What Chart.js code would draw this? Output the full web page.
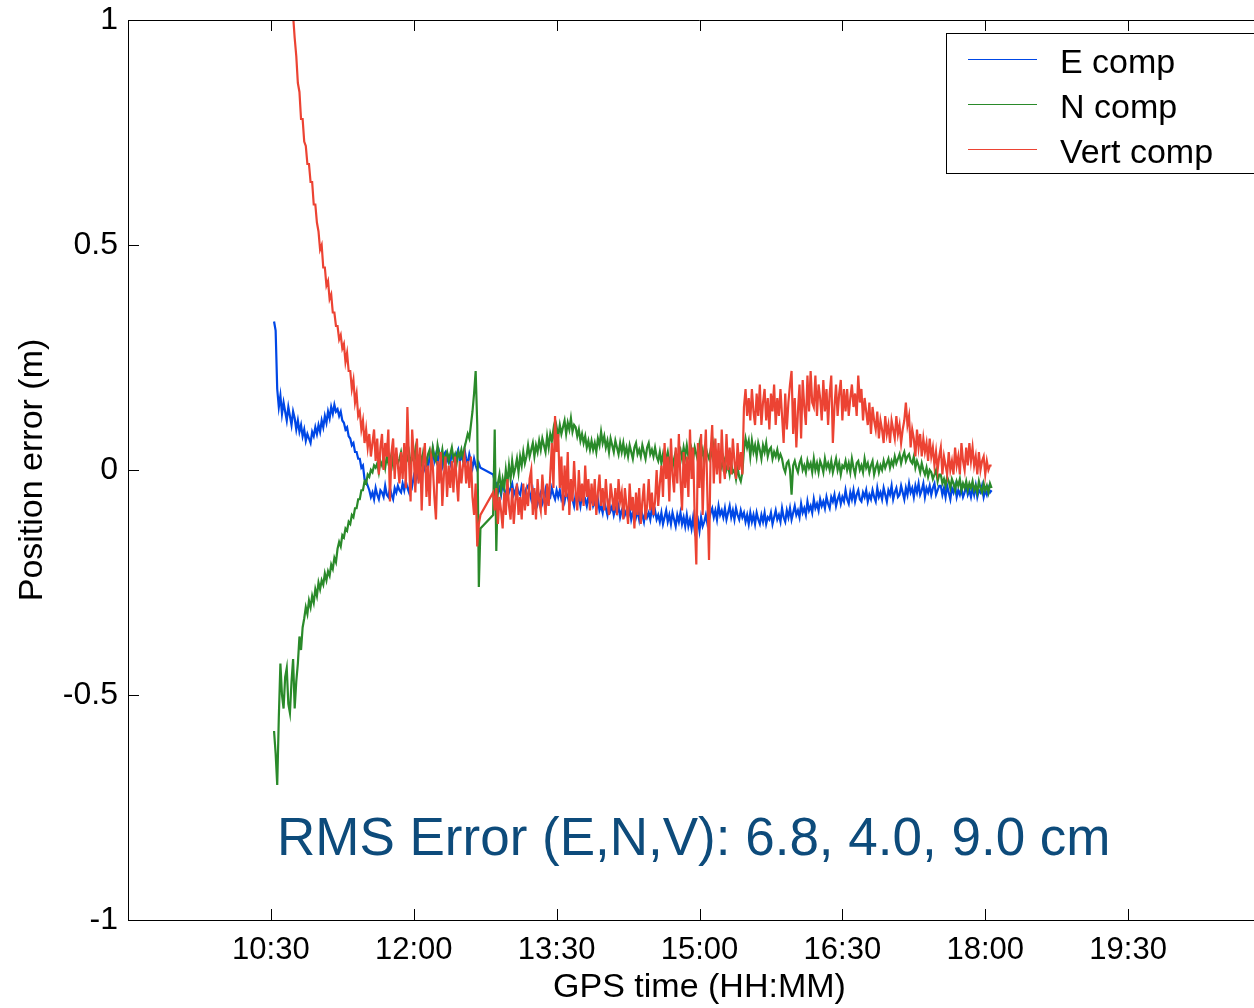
<!DOCTYPE html>
<html>
<head>
<meta charset="utf-8">
<script src="https://cdn.jsdelivr.net/npm/chart.js@4.4.1/dist/chart.umd.min.js"></script>
<style>
  html, body { margin: 0; padding: 0; background: #fff; overflow: hidden; }
  #wrap { width: 1290px; height: 1008px; }
</style>
</head>
<body>
<div id="wrap"><canvas id="chart1" width="1290" height="1008"></canvas></div>
<script>
// GPS samples, one a minute from 10:32 (minutes after midnight)
const sampleStart = 632;
const sampleStep = 1;

// position errors in cm (null = no solution)
const eComp = [
  33, 31, 18, 14, 16.5, 12.5, 15, 13, 11, 14, 12, 10, 13, 11.5, 9, 11, 8.5, 10, 7.5, 9,
  6.5, 8, 7, 6, 8.5, 7.5, 9.5, 8, 10, 8.5, 11, 9.5, 12, 10.5, 13, 11.5, 14, 12.5, 14.5, 13,
  13.5, 12, 13, 11, 10.5, 9, 9.5, 7.5, 7, 5.5, 6, 4, 4, 2.5, 2.5, 0.5, 1, -2, -2.5, -3.5,
  -4.5, -6, -5, -6.5, -4, -5.5, -6.5, -4.5, -5, -6, -3.5, -5.5, -6, -4, -5.5, -6.5, -4, -5, -3.5, -4.5,
  -5, -3, -4.5, -2.5, -4, -5, -2, -3.5, -1.5, -3, -0.5, -2, 0, -1.5, 1, 0, 2, 0.5, 3, 1.5,
  4.5, 2, 3.5, 1.5, 4, 2.5, 1, 3.5, 4, 2, 3, 1.5, 4, 2.5, 1.5, 3.5, 4.5, 2, 3, 2,
  4.5, 2.5, 1.5, 3.5, 2, 0.5, 2.5, 1, 0, 1.5, 0.5, null, null, null, null, null, null, null, -1, -2.5,
  -3, -5, -4, -5.5, -3, -4.5, -5.5, -3.5, -5, -4, -3, -5.5, -4.5, -3.5, -5, -5.5, -3.5, -4.5, -5.5, -4,
  -3.5, -5, -6.5, -4.5, -7, -5.5, -7.5, -6, -5, -7.5, -6.5, -4.5, -7, -5.5, -6, -4, -5.5, -6.5, -4.5, -6,
  -4.5, -6.5, -5.5, -7, -5, -6, -7.5, -5, -6.5, -8, -5.5, -7, -6, -8, -5.5, -7, -6.5, -8, -6, -7.5,
  -6, -8, -7, -8.5, -6.5, -9, -8, -9.5, -7, -8.5, -10, -7.5, -9, -8, -10, -8.5, -9.5, -8, -10.5, -9,
  -8, -10, -9, -10.5, -8.5, -11, -9.5, -8.5, -10.5, -9, -11, -8.5, -10, -11.5, -9, -10.5, -9.5, -11, -8.5, -10,
  -9, -11, -10, -11.5, -9.5, -12, -10.5, -9, -11.5, -10, -12, -9.5, -11, -12.5, -10, -11.5, -9.5, -12, -10.5, -12.5,
  -10, -12.5, -11, -13, -10.5, -13.5, -12, -11, -13.5, -10.5, -12.5, -11.5, -10, -12, -11, -9.5, -8.5, -10.5, -9, -11,
  -8, -10, -9, -10.5, -8.5, -11, -9.5, -8, -10.5, -9, -11, -8.5, -10, -11, -9, -10.5, -9.5, -11.5, -10, -12,
  -9.5, -11.5, -10, -12, -9.5, -11, -12, -10, -11.5, -9.5, -12, -10.5, -11, -9.5, -12, -10.5, -9, -11, -10, -11.5,
  -8.5, -10.5, -11.5, -9, -10.5, -8.5, -11, -9.5, -8, -10, -9, -10.5, -7.5, -9.5, -8.5, -10, -7, -9, -8, -9.5,
  -6.5, -8.5, -7.5, -9, -6.5, -8, -7, -8.5, -6, -7.5, -8.5, -6, -7, -5.5, -8, -6.5, -5.5, -7.5, -6, -7,
  -4.5, -6.5, -7.5, -5, -6.5, -4.5, -7, -5.5, -4.5, -6.5, -7, -5, -6, -4.5, -7, -5.5, -6.5, -4.5, -6, -7,
  -4, -6, -5, -6.5, -4, -5.5, -7, -4.5, -5.5, -3.5, -6.5, -5, -4, -6, -5.5, -3.5, -5, -6.5, -4, -5.5,
  -3, -5, -4, -6, -3.5, -5, -3, -5.5, -4.5, -3, -6, -4, -5, -3.5, -5.5, -4, -3, -5.5, -4.5, -3.5,
  -3.5, -5.5, -4, -6, -3.5, -5, -6.5, -4, -5, -3.5, -6, -4.5, -5.5, -4, -6, -5, -3.5, -5.5, -4.5, -6,
  -4, -5.5, -3.5, -6, -4.5, -5, -3.5, -6, -4.5, -5.5, -4, -5, -4.5
];

const nComp = [
  -58, -63, -70, -55, -43, -50, -53, -46, -44, -52, -54, -47, -42, -53, -47, -43, -37, -40, -35, -33,
  -30.5, -32, -29, -30.5, -28, -29.5, -26.5, -28, -25, -26.5, -24.5, -25.5, -23, -24.5, -22.5, -23.5, -21, -22, -19.5, -20.5,
  -17.5, -16, -17, -14.5, -15, -13, -13.5, -11.5, -12, -10, -10.5, -8.5, -8.5, -6.5, -6.5, -4.5, -4.5, -2.5, -3, -1,
  -1.5, 0, -0.5, 1, 0.5, 1.5, -0.5, 2, 1, 2.5, 0.5, 3, 1.5, 2, 3.5, 1, 2.5, 3, 1.5, 2.5,
  4, 2, 1, 3.5, 2.5, 4, 1.5, 3, 2, 4.5, 1, 3, 3.5, 1.5, 4, 2.5, 1.5, 3.5, 4.5, 2,
  5, 3, 2, 5.5, 3.5, 2.5, 4.5, 1.5, 3, 4, 2, 3.5, 5, 2.5, 3.5, 1.5, 4, 3, 4.5, 2.5,
  5, 6.5, 8, 7, 10, 13, 17, 22, 10, -26, -13, null, null, null, null, null, null, null, -10, 9,
  -18, -3, -1, -4.5, -2, -4, 0, -3, 1, -2, 2, -1, 0.5, 2.5, -0.5, 3, 1, 4, 1.5, 3,
  5.5, 3, 4.5, 6, 3, 5.5, 4, 6.5, 4.5, 7, 5.5, 4, 7.5, 5, 8, 6.5, 9, 6, 9.5, 7.5,
  10, 8, 9.5, 11, 8, 10.5, 9, 11.5, 8.5, 10, 9.5, 7.5, 9, 6.5, 8, 6, 7.5, 5, 6.5, 4.5,
  6.5, 4.5, 6, 4, 7, 5.5, 8.5, 6, 7.5, 5, 6.5, 4, 7, 5.5, 4, 6.5, 5, 3.5, 6, 4,
  6, 3.5, 5, 3, 5.5, 4, 2.5, 5, 6, 3.5, 4.5, 3, 5.5, 4, 2.5, 5, 6, 3.5, 4.5, 3,
  5, 3, 2, 4, 1.5, 3.5, 1, 2.5, 4, 1.5, 3, 0.5, 2.5, 4, 2, 3.5, 4.5, 2.5, 5, 3,
  5.5, 3, 2, 4.5, 2.5, 5, 3.5, 2, 5.5, 3, 4.5, 2, 5, 3.5, 2.5, 4.5, 3, 5.5, 2, 4,
  3.5, 1.5, 0.5, 3, 2, 0, 1, -1, 1.5, -0.5, 0, -2, 0.5, -1.5, -2.5, -0.5, 4.5, 7, 5, 6.5,
  3, 6.5, 4, 5.5, 3, 6, 4.5, 2.5, 5.5, 4, 6, 3, 4.5, 5, 2.5, 4, 3, 4.5, 2.5, 3.5,
  2.5, 0.5, -0.5, 1.5, 2, 0, -5.5, 1, 2, 0.5, -0.5, 1.5, 2.5, 0, 1, -0.5, 2, 0.5, 1.5, -0.5,
  2.5, 0, 1.5, -0.5, 2, 1, -0.5, 2.5, 0.5, 1.5, 0, 2, -0.5, 1, 2.5, 0, 1.5, -1, 1, 0.5,
  2, 0, 1.5, -0.5, 2.5, 0.5, -1, 1.5, 2, 0, 1, -0.5, 2.5, 0.5, 1.5, -0.5, 1, 2, -1, 0.5,
  1.5, -0.5, 1, 0, 2, 0.5, 1.5, 2.5, 0.5, 2, 1, 3, 1.5, 2.5, 3.5, 1.5, 3, 4, 2, 3,
  3.5, 2, 1.5, 3, 0.5, 2, 1, -0.5, 1.5, 0, -1, 0.5, -1.5, 0, -0.5, -2, -1, 0, -2.5, -1,
  -1, -3, -2, -3.5, -1.5, -2.5, -4, -2, -3, -4.5, -2.5, -3.5, -2, -4.5, -3, -4, -2.5, -4.5, -3, -4,
  -2.5, -4.5, -3.5, -5, -2.5, -4, -5, -3, -4.5, -3.5, -5, -3, -4
];

const vertComp = [
  null, null, null, null, null, null, null, null, null, null, 108, 104, 101, 96, 92, 86, 84, 78, 78, 73,
  72, 68, 68, 64, 64, 59, 59, 55, 53, 49, 50, 45, 45, 41, 42, 38, 39, 35, 35, 32,
  32, 29, 30, 27, 28, 24, 26, 22, 22, 18, 20, 15, 17, 12, 13, 9, 11, 6, 9, 5,
  8, 3, 6, 9, 2, 7, -1, 5, 8, 0, 6, 3, 9, -7, 4, 7, -2, 5, 1, -3,
  4, -2, 6, -4, 14, 2, -7, 9, 3, -5, 7, -3, 5, -9, 2, 6, -6, 1, -8, 3,
  1, -6, -11, 2, -3, 4, -8, -1, 3, -6, 1, -4, 2, -5, 3, -2, -7, 2, -3, 1,
  3, -3, 2, -4, 3, -6, -10, -3, -17, -12, -10, null, null, null, null, null, null, null, -5, -9,
  -4, -12, -6, -9, -13, -5, -10, -2, -8, -11, -4, -12, -7, -3, -10, -6, -11, -3, -9, -5,
  -8, -2, 0, -10, -4, -11, -2, -7, -9, -1, -6, -10, -3, -8, -1, 6, -4, 12, 4, 8,
  -4, 3, -9, 1, -6, 4, -10, -2, -7, 2, -5, -9, 0, -7, -3, -8, 1, -6, -2, -9,
  -3, -8, -2, -10, -5, -1, -8, -4, -9, -2, -7, -10, -3, -6, -9, -4, -10, -2, -7, -5,
  -11, -4, -8, -12, -3, -9, -6, -13, -5, -10, -4, -12, -7, -3, -11, -8, -2, -9, -5, -10,
  -7, 0, -8, -3, 1, -6, 6, -2, 3, -7, 7, -1, -5, 5, -3, 8, -2, -9, 4, -4,
  3, -6, 9, -2, 5, -11, -21, 6, -4, 8, -10, 2, 9, -6, -20, 4, 10, -3, 7, -1,
  6, -3, 9, 1, -2, 8, 0, 5, -1, 7, 2, -2, 6, 0, 4, -1, 14, 18, 12, 16,
  11, 18, 13, 10, 17, 12, 19, 10, 15, 18, 11, 16, 9, 17, 13, 19, 10, 16, 12, 18,
  12, 6, 17, 9, 15, 19, 22, 8, 16, 5, 13, 19, 7, 20, 14, 10, 21, 13, 22, 15,
  14, 21, 12, 19, 16, 11, 20, 13, 18, 10, 17, 21, 6, 14, 19, 12, 17, 20, 11, 18,
  13, 18, 12, 16, 19, 14, 17, 12, 21, 15, 18, 11, 16, 13, 10, 15, 8, 14, 11, 9,
  13, 7, 11, 9, 6, 12, 8, 10, 6, 11, 9, 7, 12, 8, 10, 6, 9, 11, 15, 10,
  12, 5, 9, 7, 3, 9, 5, 8, 3, 7, 4, 6, 2, 7, 3, 5, 1, 4, 0, 3,
  5, -1, 3, 1, -1, 4, 0, 2, -1, 5, 1, 3, -1, 6, 2, 0, 5, 1, 6, 2,
  5, 1, 3, -1, 4, 0, 2, 3, -1, 2, 0, 1, 1
];

const seriesNames = ['E comp', 'N comp', 'Vert comp'];
const seriesColors = ['#0047e6', '#2a8a2a', '#ec4333'];

const xTickValues = [630, 720, 810, 900, 990, 1080, 1170];
const xTickLabels = ['10:30', '12:00', '13:30', '15:00', '16:30', '18:00', '19:30'];
const yTickValues = [-1, -0.5, 0, 0.5, 1];
const yTickLabels = ['-1', '-0.5', '0', '0.5', '1'];

const rmsNote = 'RMS Error (E,N,V): 6.8, 4.0, 9.0 cm';

function toPoints(arr) {
    return arr.map((v, i) => ({ x: sampleStart + i * sampleStep, y: v === null ? null : v / 100 }));
}

Chart.defaults.font.family = 'Arial, "Liberation Sans", Helvetica, sans-serif';
Chart.defaults.color = '#000';

// box round the plot, with inward ticks on all sides
const framePlugin = {
    id: 'frame',
    afterDatasetsDraw(chart) {
        const { ctx, chartArea: a, scales } = chart;
        ctx.save();
        ctx.strokeStyle = '#000';
        ctx.lineWidth = 1;
        ctx.beginPath();
        ctx.moveTo(a.left, a.top + 0.5);
        ctx.lineTo(a.right, a.top + 0.5);
        ctx.moveTo(a.right - 0.5, a.top);
        ctx.lineTo(a.right - 0.5, a.bottom);
        scales.x.ticks.forEach(t => {
            const px = Math.round(scales.x.getPixelForValue(t.value)) + 0.5;
            ctx.moveTo(px, a.bottom);
            ctx.lineTo(px, a.bottom - 11);
            ctx.moveTo(px, a.top);
            ctx.lineTo(px, a.top + 11);
        });
        scales.y.ticks.forEach(t => {
            const py = Math.round(scales.y.getPixelForValue(t.value)) + 0.5;
            ctx.moveTo(a.left, py);
            ctx.lineTo(a.left + 11, py);
            ctx.moveTo(a.right, py);
            ctx.lineTo(a.right - 11, py);
        });
        ctx.stroke();
        ctx.restore();
    }
};

const legendPlugin = {
    id: 'boxLegend',
    afterDatasetsDraw(chart) {
        const { ctx, chartArea: a } = chart;
        const left = a.right - 325, top = a.top + 13, w = 316, h = 140;
        ctx.save();
        ctx.fillStyle = '#fff';
        ctx.fillRect(left, top, w, h);
        ctx.strokeStyle = '#000';
        ctx.lineWidth = 1;
        ctx.strokeRect(left + 0.5, top + 0.5, w, h);
        ctx.font = '34px Arial, "Liberation Sans", sans-serif';
        ctx.textBaseline = 'middle';
        ctx.fillStyle = '#000';
        chart.data.datasets.forEach((ds, i) => {
            const y = top + 26 + i * 45;
            ctx.strokeStyle = ds.borderColor;
            ctx.lineWidth = 1;
            ctx.beginPath();
            ctx.moveTo(left + 22, y + 0.5);
            ctx.lineTo(left + 91, y + 0.5);
            ctx.stroke();
            ctx.fillText(ds.label, left + 114, y + 5);
        });
        ctx.restore();
    }
};

const notePlugin = {
    id: 'rmsNote',
    afterDatasetsDraw(chart) {
        const { ctx, chartArea: a } = chart;
        ctx.save();
        ctx.font = '53px Arial, "Liberation Sans", sans-serif';
        ctx.fillStyle = '#0d4b7b';
        ctx.textBaseline = 'alphabetic';
        ctx.fillText(rmsNote, a.left + 149, a.top + 835);
        ctx.restore();
    }
};

const ctx = document.querySelector('#chart1').getContext('2d');

new Chart(ctx, {
    type: 'line',
    data: {
        datasets: [
            { label: seriesNames[0], data: toPoints(eComp), borderColor: seriesColors[0], order: 3 },
            { label: seriesNames[1], data: toPoints(nComp), borderColor: seriesColors[1], order: 2 },
            { label: seriesNames[2], data: toPoints(vertComp), borderColor: seriesColors[2], order: 1 }
        ]
    },
    options: {
        responsive: false,
        animation: false,
        spanGaps: true,
        elements: {
            line: { borderWidth: 2.2, tension: 0, fill: false },
            point: { radius: 0, hoverRadius: 0 }
        },
        layout: { padding: { top: 20, right: 19, left: 0, bottom: 0 } },
        plugins: {
            legend: { display: false },
            tooltip: { enabled: false },
            title: { display: false }
        },
        scales: {
            x: {
                type: 'linear',
                min: 540,
                max: 1260,
                grid: { display: false, drawTicks: false },
                border: { display: true, color: '#000', width: 1 },
                afterBuildTicks: scale => { scale.ticks = xTickValues.map(v => ({ value: v })); },
                afterFit: scale => { scale.height = 88; },
                ticks: {
                    autoSkip: false,
                    maxRotation: 0,
                    padding: 12,
                    font: { size: 31 },
                    callback: v => xTickLabels[xTickValues.indexOf(v)]
                },
                title: {
                    display: true,
                    text: 'GPS time (HH:MM)',
                    font: { size: 34 },
                    padding: { top: 0, bottom: 0 }
                }
            },
            y: {
                type: 'linear',
                min: -1,
                max: 1,
                grid: { display: false, drawTicks: false },
                border: { display: true, color: '#000', width: 1 },
                afterBuildTicks: scale => { scale.ticks = yTickValues.map(v => ({ value: v })); },
                afterFit: scale => {
                    scale.width = 128;
                    scale.paddingTop = 0;
                    scale.paddingBottom = 0;
                },
                ticks: {
                    padding: 10,
                    font: { size: 32 },
                    callback: v => yTickLabels[yTickValues.indexOf(v)]
                },
                title: {
                    display: true,
                    text: 'Position error (m)',
                    font: { size: 34 },
                    padding: { top: 12, bottom: 0 }
                }
            }
        }
    },
    plugins: [framePlugin, legendPlugin, notePlugin]
});
</script>
</body>
</html>
